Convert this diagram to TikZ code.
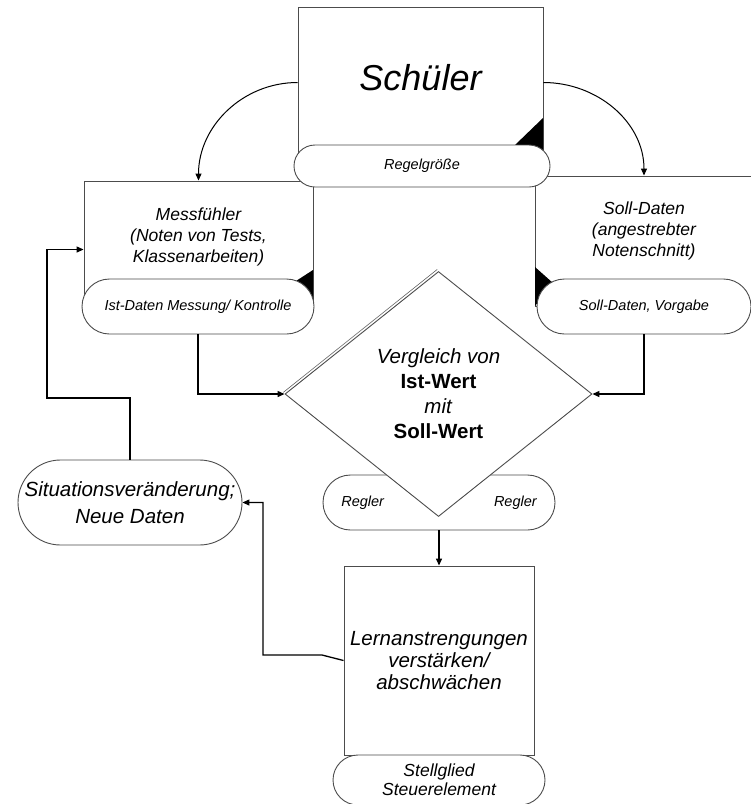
\documentclass[tikz,border=0pt]{standalone}
\usepackage{fontspec}
\setmainfont{Liberation Sans}
\usetikzlibrary{shapes.geometric,arrows.meta}

\begin{document}
\begin{tikzpicture}[x=1pt, y=-1pt,
        square/.style={rectangle, draw=black!70, line width=0.9pt, fill=white, inner sep=0pt},
        pill/.style={rectangle, rounded corners=#1, minimum height=2*#1, draw=black!70, line width=0.9pt, fill=white, inner sep=0pt, align=center},
        check/.style={diamond, aspect=1.25, draw=black!70, line width=0.9pt, fill=white, inner sep=0pt, align=center},
        titel/.style={font=\itshape\fontsize{36}{40}\selectfont},
        gross/.style={font=\itshape\fontsize{20.5}{#1}\selectfont, align=center},
        mittel/.style={font=\itshape\fontsize{17.5}{#1}\selectfont, align=center},
        klein/.style={font=\itshape\fontsize{14.5}{17}\selectfont},
        flow/.style={draw=black, line width=1.3pt, -{Triangle[length=7pt, width=6pt]}},
        bogen/.style={draw=black, line width=1pt, -{Triangle[length=7pt, width=6pt]}}]
        \path[use as bounding box, fill=white] (0,0) rectangle (751,804);
        \node [square, minimum width=245, minimum height=159, label={[titel, yshift=8.5pt]center:Schüler}] (schueler) at (420.5,86.5) {};
        \node [square, minimum width=229, minimum height=125, label={[mittel=21, yshift=6.5pt]center:{Messfühler\\(Noten von Tests,\\Klassenarbeiten)}}] (mess) at (198.5,243.5) {};
        \node [square, minimum width=218, minimum height=130, label={[mittel=21, yshift=10pt]center:{Soll-Daten\\(angestrebter\\Notenschnitt)}}] (soll) at (644,241) {};
        \node [square, gross=22, minimum width=190, minimum height=189] (lern) at (439,660.5) {Lernanstrengungen\\verstärken/\\abschwächen};
        \fill (543,118) -- (543,152) -- (515,145) -- cycle;
        \fill (313,270) -- (313,306) -- (296,281) -- cycle;
        \fill (535,267) -- (535,306) -- (553,283) -- cycle;
        \node [pill=21, klein, minimum width=256] (regel) at (422,166) {Regelgröße};
        \node [pill=27.5, klein, minimum width=232] (istdaten) at (198,306.5) {Ist-Daten Messung/ Kontrolle};
        \node [pill=27.5, klein, minimum width=214] (sollvorgabe) at (644,306.5) {Soll-Daten, Vorgabe};
        \node [pill=27.5, klein, minimum width=232] (regler) at (439,502.5) {Regler\hspace{110pt}Regler};
        \node [pill=25, mittel=19, minimum width=212] (stell) at (439,780) {Stellglied\\Steuerelement};
        \node [pill=42.5, gross=27, minimum width=224] (situ) at (130,502.5) {Situationsveränderung;\\Neue Daten};
        \node [check, minimum width=307, minimum height=245, font=\fontsize{20.5}{25}\selectfont] (vergleich) at (438.5,394) {\textit{Vergleich von}\\\textbf{Ist-Wert}\\\textit{mit}\\\textbf{Soll-Wert}};
        \draw [black!60, line width=0.6pt] ([xshift=-1.3pt, yshift=1.6pt]vergleich.west) -- ([xshift=-1.3pt, yshift=1.6pt]vergleich.north);
        \coordinate (loopleft) at (47,398);
        \coordinate (stellknick) at (263,655);
        \draw [bogen] ([yshift=4pt]schueler.west) to[out=180, in=90] (mess.north);
        \draw [bogen] ([yshift=4pt]schueler.east) to[out=0, in=90] (soll.north);
        \draw [flow] (istdaten.south) |- (vergleich.west);
        \draw [flow] (sollvorgabe.south) |- (vergleich.east);
        \draw [flow] (regler.south) -- (lern.north);
        \draw [flow] (situ.north) |- (loopleft) |- ([yshift=-6pt]mess.west);
        \draw [flow] (lern.west) -- (322,655) -- (stellknick) |- (situ.east);
\end{tikzpicture}
\end{document}
